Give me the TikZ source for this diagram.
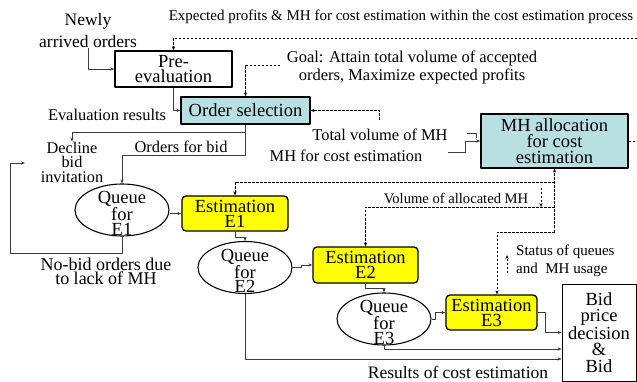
\documentclass[tikz,border=0pt]{standalone}
\usepackage{fontspec}
\setmainfont{Liberation Serif}
\usetikzlibrary{shapes.geometric,arrows.meta}
\definecolor{selcyan}{RGB}{184,223,226}
\definecolor{estyellow}{RGB}{255,255,0}
\definecolor{wire}{RGB}{60,60,60}
\begin{document}
\begin{tikzpicture}[x=1pt, y=-1pt, line join=round, >={Stealth[length=4pt,width=3.2pt]},
	big/.style={font=\fontsize{18.5}{15}\selectfont, align=center, inner sep=0pt},
	note/.style={font=\fontsize{16.4}{15}\selectfont, align=center, inner sep=0pt},
	tiny/.style={font=\fontsize{15}{18}\selectfont, inner sep=0pt},
	box/.style={big, draw, line width=1.3pt},
	estbox/.style={box, fill=estyellow, rounded corners=4pt, minimum height=35pt},
	queue/.style={ellipse, draw, line width=1.1pt, minimum width=94pt, minimum height=52pt, inner sep=0pt},
	flow/.style={->, draw=wire, line width=0.7pt},
	dflow/.style={->, draw=black, line width=0.6pt, dash pattern=on 2.5pt off 1.5pt}]
	\useasboundingbox (0,0) rectangle (637,382);
	% boxes
	\node[box, minimum width=117pt, minimum height=36pt] (pre) at (173.5,69) {Pre-\\evaluation};
	\node[box, fill=selcyan, minimum width=129pt, minimum height=27pt] (ord) at (245.5,110.5) {Order selection};
	\node[box, fill=selcyan, minimum width=147pt, minimum height=54pt, font=\fontsize{18.5}{16}\selectfont] (mh) at (554.5,141) {MH allocation\\for cost\\estimation};
	\node[estbox, minimum width=106pt] (e1) at (235,213.5) {Estimation\\E1};
	\node[estbox, minimum width=105pt, minimum height=36pt] (e2) at (365.5,265) {Estimation\\E2};
	\node[estbox, minimum width=91pt] (e3) at (491.5,312.5) {Estimation\\E3};
	\node[box, line width=0.9pt, minimum width=74pt, minimum height=97pt, font=\fontsize{18.5}{16.5}\selectfont] (bid) at (599,332.5) {Bid\\price\\decision\\\&\\Bid};
	% queues
	\node[queue] (q1) at (122,210) {};
	\node[big, font=\fontsize{18.5}{14.5}\selectfont] (q1t) at ([yshift=-3.5pt]q1.center) {Queue\\for\\E1};
	\node[queue] (q2) at (245,267.5) {};
	\node[big, font=\fontsize{18.5}{14.5}\selectfont] (q2t) at ([yshift=-3.5pt]q2.center) {Queue\\for\\E2};
	\node[queue] (q3) at (384,319) {};
	\node[big, font=\fontsize{18.5}{14.5}\selectfont] (q3t) at ([yshift=-3.5pt]q3.center) {Queue\\for\\E3};
	% labels
	\node[big, font=\fontsize{17.5}{22}\selectfont] (arr) at (88,31) {Newly\\arrived orders};
	\node[tiny] (exp) at (401,17) {Expected profits \& MH for cost estimation within the cost estimation process};
	\node[note, font=\fontsize{16.5}{18}\selectfont] (goal) at (412,67) {Goal: Attain total volume of accepted\\orders, Maximize expected profits};
	\node[note] (evr) at (107,115) {Evaluation results};
	\node[note] (tot) at (380,135) {Total volume of MH};
	\node[note] (mhc) at (346,156) {MH for cost estimation};
	\node[note] (ofb) at (181,147) {Orders for bid};
	\node[note, font=\fontsize{16.3}{14.5}\selectfont] (dec) at (72,162) {Decline\\bid\\invitation};
	\node[big, font=\fontsize{18}{14}\selectfont] (nob) at (106,271) {No-bid orders due\\to lack of MH};
	\node[tiny, font=\fontsize{14.6}{18}\selectfont] (vol) at (456,198) {Volume of allocated MH};
	\node[tiny, align=left, anchor=west, font=\fontsize{15}{18}\selectfont] (sts) at (516,261) {Status of queues\\and~~MH usage};
	\node[big, font=\fontsize{17.5}{15}\selectfont] (res) at (458,372) {Results of cost estimation};
	% free ends
	\coordinate (expin) at (637,38);
	\coordinate (goalin) at (280,65);
	\coordinate (volin) at (379,120);
	\coordinate (split) at (245.5,132);
	\coordinate (bidturn) at (245.5,155);
	\coordinate (nbcorner) at (10,253);
	\coordinate (nbend) at (25,163);
	\coordinate (mhin) at (448,152);
	\coordinate (tick) at (467,133);
	\coordinate (mhout) at (637,141);
	\coordinate (mhv) at (554.5,182);
	\coordinate (mhv2) at (554.5,207);
	\coordinate (mhv3) at (554.5,232);
	\coordinate (va1) at (541,188);
	\coordinate (va2) at (541,207);
	\coordinate (sq1) at (507,273);
	\coordinate (sq2) at (507,255);
	% solid flows
	\draw[flow] (arr.south) |- (pre.west);
	\draw[flow] (pre.south) |- (ord.west);
	\draw[flow] (ord.south) -- (bidturn) -| (q1.north);
	\draw[flow] (split) -| (dec.north);
	\draw[flow] (q1.south) |- (nbcorner) |- (nbend);
	\draw[flow] (q1.east |- e1.west) -- (e1.west);
	\draw[flow] (e1.south) -- ++(0,6) -| (q2.north);
	\draw[flow] (q2.east) -- ++(9,0) |- (e2.west);
	\draw[flow] (e2.south) -- ++(0,5) -| (q3.north);
	\draw[flow] (q3.east) -- ++(4,0) |- (e3.west);
	\draw[flow] (e3.east) -- ++(8,0) |- (bid.west);
	\draw[flow] (q3.south) |- ([yshift=-16.5pt]bid.west);
	\draw[flow] (q2.south) |- ([yshift=-26.5pt]bid.west);
	\draw[flow] (mhin) -- ++(17,0) |- (mh.west);
	\draw[flow, -] (tick) -- ++(9,0) -- ++(0,5);
	% dashed flows
	\draw[dflow] (expin) -| (pre.north);
	\draw[dflow] (goalin) -| (ord.north);
	\draw[dflow] (volin) |- (ord.east);
	\draw[dflow, -] (mh.east) -- (mhout);
	\draw[dflow] (mhv3) -- (mh.south);
	\draw[dflow] (mhv) -| (e1.north);
	\draw[dflow] (mhv2) -| (e2.north);
	\draw[dflow] (mhv3) -| ([xshift=5.5pt]e3.north);
	\draw[dflow] (va1) -- (va2);
	\draw[dflow] (sq1) -- (sq2);
\end{tikzpicture}
\end{document}
